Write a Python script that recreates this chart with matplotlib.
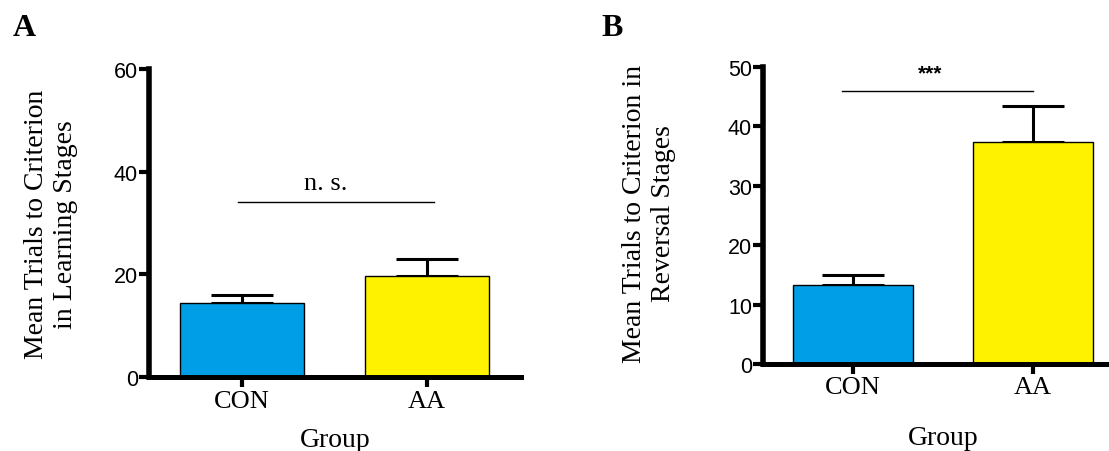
import matplotlib.pyplot as plt

# Data
groups = ["CON", "AA"]
learning_mean = [14.4, 19.7]
learning_sem = [1.6, 3.3]
reversal_mean = [13.3, 37.4]
reversal_sem = [1.7, 6.0]
colors = ["#009ee6", "#fff200"]

serif = "Liberation Serif"
sans = "Liberation Sans"

fig = plt.figure(figsize=(11.09, 4.52), dpi=100)
axA = fig.add_axes([149 / 1109, 0.1637, 372 / 1109, 0.6814])
axB = fig.add_axes([763 / 1109, 0.1925, 360 / 1109, 0.6571])


def style_axis(ax, ylim, yticks):
    x = range(len(groups))
    ax.set_ylim(*ylim)
    ax.set_yticks(yticks)
    ax.set_xticks(list(x))
    ax.set_xticklabels(groups, fontfamily=serif, fontsize=19)
    for lab in ax.get_yticklabels():
        lab.set_fontfamily(sans)
        lab.set_fontsize(15.5)
    for s in ["top", "right"]:
        ax.spines[s].set_visible(False)
    ax.spines["left"].set_linewidth(4)
    ax.spines["bottom"].set_linewidth(3.6)
    ax.tick_params(axis="y", length=7, width=3, pad=1)
    ax.tick_params(axis="x", length=7, width=3, pad=2)


def draw_bars(ax, means, sems):
    x = list(range(len(groups)))
    ax.bar(x, means, width=0.67, color=colors, edgecolor="black", linewidth=1, zorder=2)
    ax.errorbar(x, means, yerr=[[0, 0], sems], fmt="none", ecolor="black",
                elinewidth=2.2, capsize=22.5, capthick=2.2, zorder=1)


# Panel A
draw_bars(axA, learning_mean, learning_sem)
axA.set_xlim(-0.503, 1.508)
style_axis(axA, (0, 60), [0, 20, 40, 60])
axA.set_xlabel("Group", fontfamily=serif, fontsize=20, labelpad=11)
axA.set_ylabel("Mean Trials to Criterion\nin Learning Stages", fontfamily=serif,
               fontsize=20, linespacing=1.2)
axA.yaxis.set_label_coords(-0.191, 0.498)
axA.plot([-0.02, 1.04], [34.1, 34.1], color="black", lw=1)
axA.text(0.45, 35.6, "n. s.", ha="center", va="bottom", fontfamily=serif, fontsize=19)

# Panel B
draw_bars(axB, reversal_mean, reversal_sem)
axB.set_xlim(-0.5, 1.5)
style_axis(axB, (0, 50), [0, 10, 20, 30, 40, 50])
axB.set_xlabel("Group", fontfamily=serif, fontsize=20, labelpad=19)
axB.set_ylabel("Mean Trials to Criterion in\nReversal Stages", fontfamily=serif,
               fontsize=20, linespacing=1.2)
axB.yaxis.set_label_coords(-0.242, 0.51)
axB.plot([-0.06, 1.0], [46.0, 46.0], color="black", lw=1)
axB.text(0.43, 47.4, "***", ha="center", va="bottom", fontfamily=sans,
         fontsize=15, fontweight="bold")

fig.text(13 / 1109, 1 - 36 / 452, "A", fontfamily=serif, fontsize=23,
         fontweight="bold", va="baseline")
fig.text(601 / 1109, 1 - 36 / 452, "B", fontfamily=serif, fontsize=23,
         fontweight="bold", va="baseline")

plt.savefig("out.png", dpi=100)
